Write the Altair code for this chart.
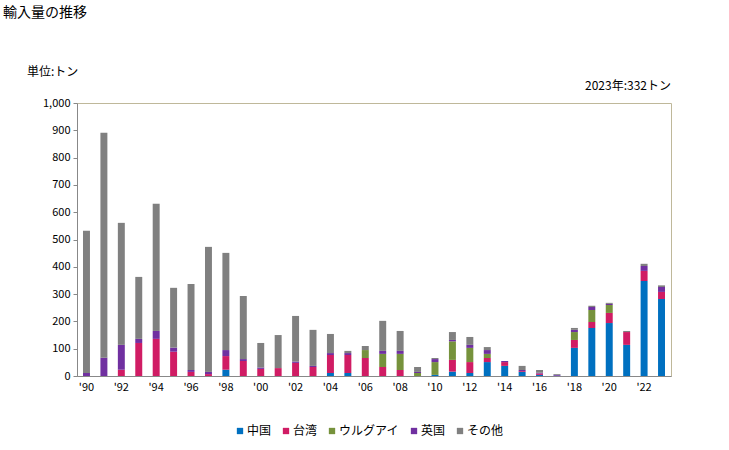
import altair as alt
import pandas as pd

years = list(range(1990, 2024))
series = ["中国", "台湾", "ウルグアイ", "英国", "その他"]
colors = ["#0070C0", "#D01C64", "#76923C", "#7030A0", "#808080"]

china = [0, 0, 0, 0, 0, 0, 0, 0, 23, 0, 0,
         0, 0, 0, 11, 11, 0, 0, 0, 0, 4,
         16, 11, 51, 37, 15, 4, 1, 103, 176, 194,
         114, 348, 282]
taiwan = [0, 0, 23, 121, 136, 89, 15, 7, 50, 55, 26,
          29, 48, 33, 66, 66, 66, 33, 22, 0, 0,
          43, 40, 15, 14, 3, 5, 0, 29, 22, 37,
          47, 37, 26]
uruguay = [0, 0, 0, 0, 0, 0, 0, 0, 0, 0, 0,
           0, 0, 0, 0, 0, 29, 48, 59, 11, 47,
           68, 52, 15, 0, 0, 0, 0, 29, 44, 29,
           0, 0, 0]
uk = [11, 67, 91, 15, 29, 15, 7, 8, 22, 7, 5,
      0, 5, 4, 7, 7, 0, 11, 11, 4, 11,
      5, 11, 14, 4, 4, 3, 3, 8, 11, 4,
      0, 18, 18]
other = [521, 824, 447, 227, 466, 219, 315, 458, 356, 231, 90,
         121, 167, 132, 70, 8, 15, 110, 73, 18, 4,
         29, 29, 11, 0, 15, 10, 3, 7, 4, 4,
         4, 8, 6]

y_ticks = list(range(0, 1001, 100))

rows = []
for i, y in enumerate(years):
    for k, (name, vals) in enumerate(zip(series, [china, taiwan, uruguay, uk, other])):
        rows.append({"year": y, "series": name, "value": vals[i], "rank": k})
df = pd.DataFrame(rows)

FONT = "Noto Sans CJK JP"

bars = alt.Chart(df).mark_bar().encode(
    x=alt.X("year:O", title=None,
            scale=alt.Scale(paddingInner=0.6, paddingOuter=0.344),
            axis=alt.Axis(labelAngle=0, ticks=False, domainColor="#888888",
                          labelPadding=5, labelFontSize=11, labelColor="#000000",
                          labelFont=FONT,
                          labelExpr="datum.value % 2 == 0 ? \"'\" + substring(toString(datum.value), 2) : ''")),
    y=alt.Y("value:Q", title=None, stack="zero",
            scale=alt.Scale(domain=[0, 1000], nice=False),
            axis=alt.Axis(values=y_ticks, format=",d", grid=False, domainColor="#888888",
                          tickColor="#888888", tickSize=4, labelPadding=3,
                          labelFontSize=11, labelColor="#000000", labelFont=FONT)),
    color=alt.Color("series:N", scale=alt.Scale(domain=series, range=colors),
                    legend=alt.Legend(title=None, orient="none", direction="horizontal",
                                      legendX=157, legendY=322, symbolType="square",
                                      symbolSize=40, labelFontSize=12, labelFont=FONT,
                                      columnPadding=8, labelOffset=1,
                                      symbolStrokeWidth=0)),
    order=alt.Order("rank:Q", sort="ascending"),
)

def label(text, x, y, size, align="left"):
    return alt.Chart(pd.DataFrame({"t": [text]})).mark_text(
        align=align, baseline="middle", fontSize=size, font=FONT, color="#000000"
    ).encode(text="t:N", x=alt.value(x), y=alt.value(y))

title = label("輸入量の推移", -74, -90, 14)
unit = label("単位:トン", -50, -31, 12)
note = label("2023年:332トン", 594, -17, 12, align="right")

chart = alt.layer(bars, title, unit, note).properties(
    width=594, height=273,
    autosize=alt.AutoSizeParams(type="none"),
    padding={"left": 77, "top": 103, "right": 58, "bottom": 74},
).configure_view(stroke="#BFB89A", strokeWidth=1)

chart.save("out.html", embed_options={"renderer": "svg", "actions": False})
